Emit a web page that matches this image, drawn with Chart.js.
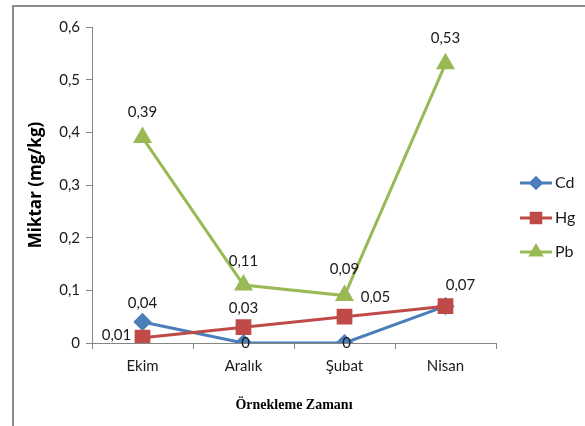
<!DOCTYPE html>
<html>
<head>
<meta charset="utf-8">
<script src="https://cdn.jsdelivr.net/npm/chart.js@4/dist/chart.umd.min.js"></script>
<style>
    html, body { margin: 0; padding: 0; background: #fff; }
    #wrap { position: relative; width: 585px; height: 426px; }
    #frame { position: absolute; left: 12px; top: 5px; width: 573px; height: 421px;
             border-top: 2px solid #8c8c8c; border-left: 2px solid #8c8c8c; box-sizing: border-box; }
    canvas { position: absolute; left: 0; top: 0; }
</style>
</head>
<body>
<div id="wrap">
    <div id="frame"></div>
    <canvas id="chart" width="585" height="426"></canvas>
</div>
<script>
// data
const months = ['Ekim', 'Aralık', 'Şubat', 'Nisan'];
const cdValues = [0.04, 0, 0, 0.07];
const hgValues = [0.01, 0.03, 0.05, 0.07];
const pbValues = [0.39, 0.11, 0.09, 0.53];
const yTicks = [0, 0.1, 0.2, 0.3, 0.4, 0.5, 0.6];

const tickFont = { family: 'Lato, "Open Sans", sans-serif', size: 15 };

// where each value label sits relative to its point (null = hidden)
const labelOffsets = [
    [[0, -19], [2, 0], [2, 0], null],
    [[-26, -3], [0, -19], [31, -20], [15, -21]],
    [[0, -25], [0, -24], [0, -26], [0, -26]]
];

function fmt(v) {
    return String(v).replace('.', ',');
}

// value labels in Excel style
const valueLabels = {
    id: 'valueLabels',
    afterDatasetsDraw(chart) {
        const ctx = chart.ctx;
        ctx.save();
        ctx.font = tickFont.size + 'px ' + tickFont.family;
        ctx.fillStyle = '#1a1a1a';
        ctx.textAlign = 'center';
        ctx.textBaseline = 'middle';
        chart.data.datasets.forEach((ds, i) => {
            const meta = chart.getDatasetMeta(i);
            meta.data.forEach((pt, j) => {
                const off = labelOffsets[i][j];
                if (!off) return;
                ctx.fillText(fmt(ds.data[j]), pt.x + off[0], pt.y + off[1]);
            });
        });
        ctx.restore();
    }
};

// legend with line + marker like the original
const sideLegend = {
    id: 'sideLegend',
    afterDraw(chart) {
        const ctx = chart.ctx;
        const x0 = 520, x1 = 552;
        const rows = [183, 218, 252];
        ctx.save();
        chart.data.datasets.forEach((ds, i) => {
            const y = rows[i];
            ctx.strokeStyle = ds.borderColor;
            ctx.lineWidth = 3;
            ctx.beginPath();
            ctx.moveTo(x0, y);
            ctx.lineTo(x1, y);
            ctx.stroke();
            Chart.helpers.drawPoint(ctx, {
                pointStyle: ds.pointStyle,
                radius: ds.pointRadius * 0.75,
                borderWidth: 1
            }, (x0 + x1) / 2, y);
            ctx.fillStyle = ds.borderColor;
            ctx.fill();
            ctx.fillStyle = '#1a1a1a';
            ctx.font = '16px ' + tickFont.family;
            ctx.textAlign = 'left';
            ctx.textBaseline = 'middle';
            ctx.fillText(ds.label, x1 + 3, y);
        });
        ctx.restore();
    }
};

const ctx = document.getElementById('chart').getContext('2d');

new Chart(ctx, {
    type: 'line',
    data: {
        labels: months,
        datasets: [{
            label: 'Cd',
            data: cdValues,
            borderColor: '#4a7ebb',
            backgroundColor: '#4a7ebb',
            pointStyle: 'rectRot',
            pointRadius: 7,
            borderWidth: 3,
            order: 3
        }, {
            label: 'Hg',
            data: hgValues,
            borderColor: '#be4b48',
            backgroundColor: '#be4b48',
            pointStyle: 'rect',
            pointRadius: 9,
            borderWidth: 3,
            order: 2
        }, {
            label: 'Pb',
            data: pbValues,
            borderColor: '#98b954',
            backgroundColor: '#98b954',
            pointStyle: 'triangle',
            pointRadius: 8,
            borderWidth: 3,
            order: 1
        }]
    },
    options: {
        responsive: false,
        animation: false,
        layout: { padding: { left: 20, right: 89, top: 27, bottom: 0 } },
        plugins: {
            legend: { display: false },
            tooltip: { enabled: false }
        },
        scales: {
            x: {
                offset: true,
                afterFit: (scale) => { scale.height = 83; },
                border: { color: '#868686', width: 1 },
                grid: { display: true, drawOnChartArea: false, tickLength: 6, color: '#868686', offset: true },
                ticks: { color: '#1a1a1a', font: tickFont, padding: 8 },
                title: {
                    display: true,
                    text: 'Örnekleme Zamanı',
                    color: '#000',
                    font: { family: '"Liberation Serif", "Times New Roman", serif', size: 14, weight: 'bold' },
                    padding: { top: 0, bottom: 12 }
                }
            },
            y: {
                min: 0,
                max: 0.6,
                afterFit: (scale) => { scale.width = 72; },
                afterBuildTicks: (scale) => { scale.ticks = yTicks.map(v => ({ value: v })); },
                border: { color: '#868686', width: 1 },
                grid: { display: true, drawOnChartArea: false, tickLength: 6, color: '#868686' },
                ticks: {
                    color: '#1a1a1a',
                    font: tickFont,
                    padding: 6,
                    callback: (v) => fmt(Math.round(v * 10) / 10)
                },
                title: {
                    display: true,
                    text: 'Miktar (mg/kg)',
                    color: '#000',
                    font: { family: '"Open Sans", sans-serif', size: 17, weight: 'bold' },
                    padding: { top: 6, bottom: 0 }
                }
            }
        }
    },
    plugins: [valueLabels, sideLegend]
});
</script>
</body>
</html>
